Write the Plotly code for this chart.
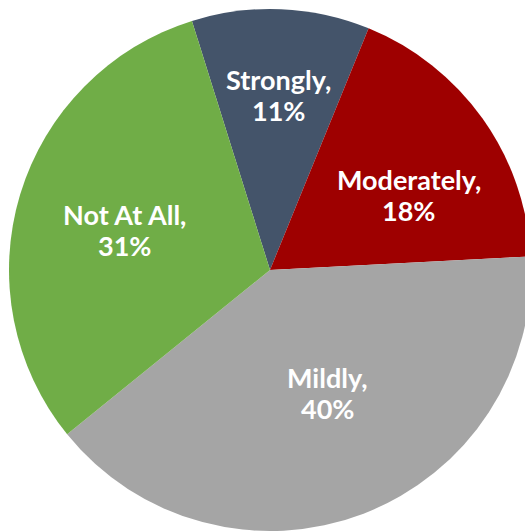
import math
import plotly.graph_objects as go

categories = ["Strongly", "Moderately", "Mildly", "Not At All"]
values = [11, 18, 40, 31]
colors = ["#44546A", "#9E0000", "#A5A5A5", "#70AD47"]

# label placement (angle clockwise from 12 o'clock, fraction of radius)
label_angle = [2.9, 61.5, 155.1, 285.2]
label_frac = [0.671, 0.606, 0.52, 0.578]

W, H = 540, 540
CX, CY, R = 270, 270, 261
LINE_GAP = 31  # px between the two label lines

fig = go.Figure(go.Pie(
    labels=categories, values=values, sort=False, direction="clockwise",
    rotation=-17.4, marker=dict(colors=colors, line=dict(width=0)),
    textinfo="none", hoverinfo="none", showlegend=False,
    domain=dict(x=[(CX - R) / W, (CX + R) / W], y=[1 - (CY + R) / H, 1 - (CY - R) / H]),
))

total = sum(values)
font = dict(family="Lato", size=27, color="white", weight="bold")
anns = []
for cat, v, a, f in zip(categories, values, label_angle, label_frac):
    px = CX + R * f * math.sin(math.radians(a))
    py = CY - R * f * math.cos(math.radians(a))
    for txt, dy in ((f"{cat},", -LINE_GAP / 2), (f"{round(100 * v / total)}%", LINE_GAP / 2)):
        anns.append(dict(
            x=px / W, y=1 - (py + dy) / H, xref="paper", yref="paper", showarrow=False,
            text=txt, xanchor="center", yanchor="middle", font=font,
        ))

fig.update_layout(
    width=W, height=H, margin=dict(l=0, r=0, t=0, b=0),
    paper_bgcolor="white", plot_bgcolor="white", annotations=anns,
)

fig.write_html(
    "out.html", config={"displayModeBar": False},
    post_script="document.body.style.margin='0';document.body.style.overflow='hidden';document.documentElement.style.overflow='hidden';",
)
